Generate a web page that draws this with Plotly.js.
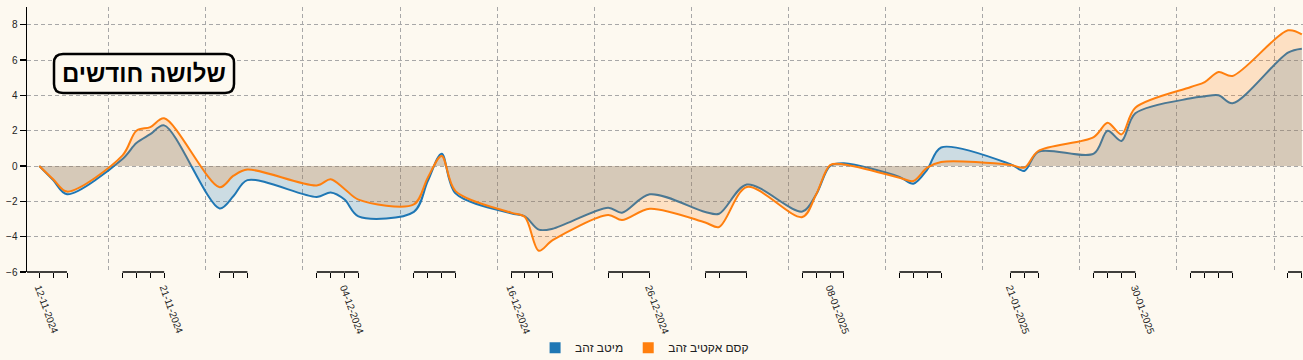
<!DOCTYPE html>
<html>
<head>
<meta charset="utf-8">
<script src="https://cdn.plot.ly/plotly-3.0.1.min.js"></script>
<style>
  html, body { margin: 0; padding: 0; background: #fdf9f0; }
  #chart { width: 1303px; height: 360px; }
</style>
</head>
<body>
<div id="chart"></div>
<script>
// ---- data ----
const dates = ['2024-11-12','2024-11-13','2024-11-14','2024-11-18','2024-11-19','2024-11-20','2024-11-21','2024-11-25','2024-11-26','2024-11-27',
  '2024-12-02','2024-12-03','2024-12-04','2024-12-05','2024-12-09','2024-12-10','2024-12-11','2024-12-12','2024-12-16','2024-12-17','2024-12-18','2024-12-19','2024-12-23','2024-12-24','2024-12-26','2024-12-30','2024-12-31',
  '2025-01-02','2025-01-06','2025-01-07','2025-01-08','2025-01-09','2025-01-13','2025-01-14','2025-01-15','2025-01-16','2025-01-21','2025-01-22','2025-01-23','2025-01-27','2025-01-28','2025-01-29','2025-01-30',
  '2025-02-03','2025-02-04','2025-02-05','2025-02-06','2025-02-10','2025-02-11'];

const meitavZahav = [0, -0.8, -1.6, 0.4, 1.3, 1.8, 2.3, -2.4, -1.7, -0.8,
  -1.75, -1.5, -1.9, -2.85, -2.6, -0.85, 0.7, -1.55, -2.68, -2.85, -3.6, -3.55, -2.36, -2.64, -1.6, -2.6, -2.7,
  -1.05, -2.58, -1.6, 0.0, 0.15, -0.62, -1.0, -0.2, 1.05, 0.1, -0.28, 0.8, 0.7, 2.0, 1.42, 2.98,
  3.83, 3.94, 4.0, 3.55, 6.42, 6.64];

const kasemActiveZahav = [0, -0.75, -1.45, 0.6, 2.0, 2.2, 2.7, -1.2, -0.55, -0.2,
  -1.1, -0.75, -1.3, -1.9, -2.17, -0.66, 0.57, -1.42, -2.64, -2.89, -4.8, -4.2, -2.77, -3.06, -2.42, -3.2, -3.45,
  -1.19, -2.89, -1.6, 0.05, 0.09, -0.66, -0.85, -0.09, 0.23, 0.06, -0.09, 0.85, 1.64, 2.45, 1.79, 3.3,
  4.47, 4.75, 5.32, 5.1, 7.68, 7.45];

const labeledDates = ['2024-11-12','2024-11-21','2024-12-04','2024-12-16','2024-12-26','2025-01-08','2025-01-21','2025-01-30','2025-02-11'];
const seriesNames = ['מיטב זהב', 'קסם אקטיב זהב'];
const chartTitle = 'שלושה חודשים';
const yTicks = [-6, -4, -2, 0, 2, 4, 6, 8];

// ---- styling ----
const BG = '#fdf9f0';
const BLUE = '#1f77b4';
const ORANGE = '#ff7f0e';
const FONT = 'Arial, "Liberation Sans", sans-serif';
const xRange = ['2024-11-11 02:45', '2025-02-11 02:00'];

function fmt(d) { const p = d.split('-'); return p[2] + '-' + p[1] + '-' + p[0]; }
const tickText = dates.map(d => labeledDates.includes(d) ? fmt(d) : '');

const traces = [
  { x: dates, y: meitavZahav, type: 'scatter', mode: 'lines', fill: 'tozeroy',
    fillcolor: 'rgba(31,119,180,0.22)', line: { color: BLUE, width: 2, shape: 'spline', smoothing: 0.9 },
    showlegend: false, hoverinfo: 'skip' },
  { x: dates, y: kasemActiveZahav, type: 'scatter', mode: 'lines', fill: 'tozeroy',
    fillcolor: 'rgba(255,127,14,0.2)', line: { color: ORANGE, width: 2, shape: 'spline', smoothing: 0.9 },
    showlegend: false, hoverinfo: 'skip' },
  { x: [null], y: [null], type: 'scatter', mode: 'markers', name: seriesNames[0],
    marker: { symbol: 'square', size: 11, color: BLUE }, showlegend: true },
  { x: [null], y: [null], type: 'scatter', mode: 'markers', name: seriesNames[1],
    marker: { symbol: 'square', size: 11, color: ORANGE }, showlegend: true },
  { x: [dates[0]], y: [null], xaxis: 'x2', type: 'scatter', mode: 'markers', showlegend: false, hoverinfo: 'skip' }
];

// axis baseline segments between consecutive trading days
const shapes = [];
const DAY = 86400000;
shapes.push({ type: 'line', xref: 'x', yref: 'paper', x0: xRange[0], x1: dates[0], y0: 0, y1: 0,
  line: { color: '#000', width: 1.5 }, layer: 'above' });
for (let i = 0; i < dates.length - 1; i++) {
  const gap = (new Date(dates[i + 1]) - new Date(dates[i])) / DAY;
  if (gap < 3) {
    shapes.push({ type: 'line', xref: 'x', yref: 'paper', x0: dates[i], x1: dates[i + 1], y0: 0, y1: 0,
      line: { color: '#000', width: 1.5 }, layer: 'above' });
  }
}
// rounded title box
shapes.push({ type: 'path', xref: 'paper', yref: 'paper', xsizemode: 'pixel', ysizemode: 'pixel',
  xanchor: 0.0917, yanchor: 0.749,
  path: 'M -81,-19.5 L 81,-19.5 Q 90,-19.5 90,-10.5 L 90,10.5 Q 90,19.5 81,19.5 L -81,19.5 Q -90,19.5 -90,10.5 L -90,-10.5 Q -90,-19.5 -81,-19.5 Z',
  line: { color: '#000', width: 2.5 }, fillcolor: BG, layer: 'above' });

const layout = {
  width: 1303, height: 360,
  margin: { l: 27, r: 0, t: 7, b: 88, autoexpand: false },
  paper_bgcolor: BG, plot_bgcolor: BG,
  font: { family: FONT, size: 10, color: '#222' },
  showlegend: true,
  hovermode: false,
  xaxis: {
    type: 'date', range: xRange, tickmode: 'array', tickvals: dates, ticktext: tickText,
    tickangle: 70, ticks: 'outside', ticklen: 5, tickwidth: 1, tickcolor: '#000',
    showgrid: false, showline: false, zeroline: false, automargin: false,
    tickfont: { family: FONT, size: 10, color: '#222' }
  },
  xaxis2: {
    type: 'date', range: xRange, overlaying: 'x', tick0: '2024-11-17', dtick: 7 * DAY,
    showgrid: true, gridcolor: '#a8a8a8', griddash: '4px,3px', gridwidth: 1,
    showticklabels: false, ticks: '', showline: false, zeroline: false
  },
  yaxis: {
    range: [-6, 9], tickmode: 'array', tickvals: yTicks, ticks: 'outside', ticklen: 6, tickwidth: 1.5,
    tickcolor: '#000', showline: true, linecolor: '#000', linewidth: 1.5,
    showgrid: true, gridcolor: '#a8a8a8', griddash: '4px,3px', gridwidth: 1, zeroline: false,
    tickfont: { family: FONT, size: 10, color: '#222' }, automargin: false
  },
  legend: {
    orientation: 'h', x: 0.484, xanchor: 'center', y: -0.231, yanchor: 'top',
    font: { family: FONT, size: 12, color: '#222' }, bgcolor: 'rgba(0,0,0,0)', itemwidth: 30
  },
  shapes: shapes,
  annotations: [{
    text: '<b>' + chartTitle + '</b>', xref: 'paper', yref: 'paper', x: 0.0917, y: 0.749,
    xanchor: 'center', yanchor: 'middle', showarrow: false,
    font: { family: FONT, size: 24, color: '#000' }
  }]
};

Plotly.newPlot('chart', traces, layout, { staticPlot: true, displayModeBar: false });
</script>
</body>
</html>
